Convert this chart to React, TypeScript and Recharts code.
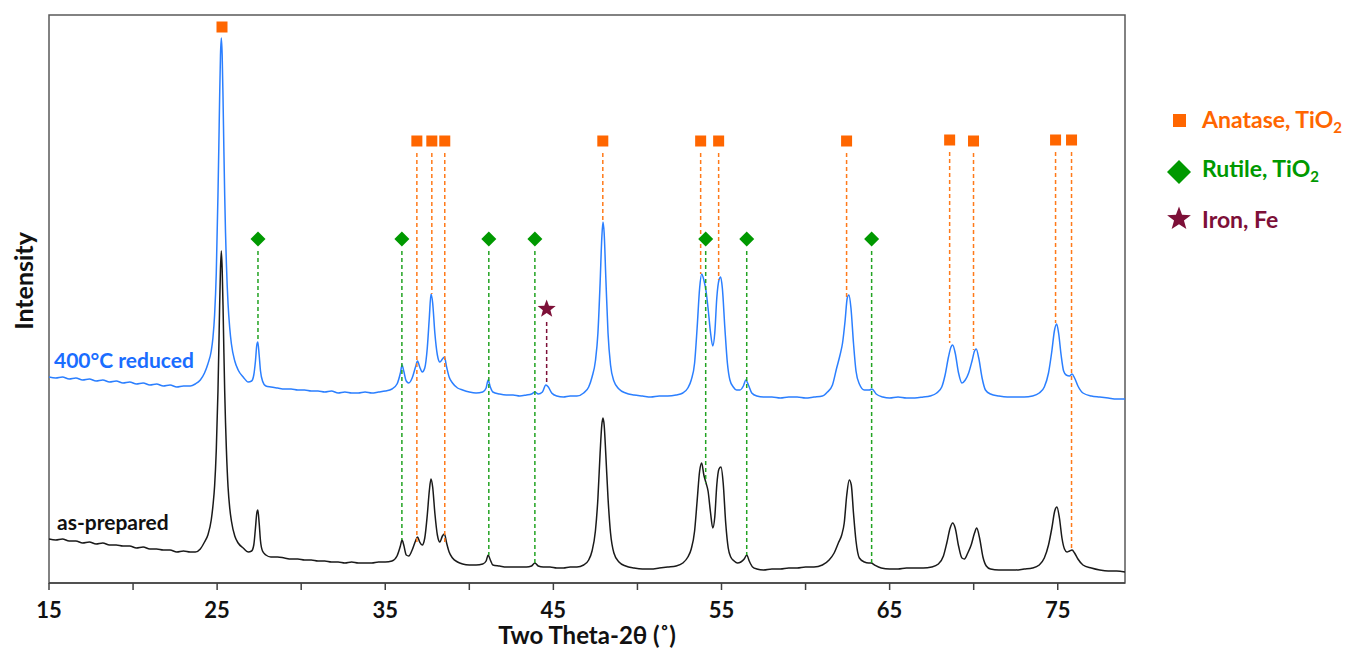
import { ComposedChart, Line, Scatter, XAxis, YAxis, ReferenceLine, ReferenceArea } from 'recharts';

// XRD scans: [two theta (deg), intensity (a.u.)]
const reducedScan: [number, number][] = [
  [15.0, 206], [15.4, 205], [15.8, 206], [16.2, 204], [16.6, 205], [17.0, 203], [17.4, 204], [17.8, 202],
  [18.2, 203], [18.6, 201], [19.0, 202], [19.4, 200], [19.8, 201], [20.2, 199], [20.6, 200], [21.0, 198],
  [21.4, 199], [21.8, 197], [22.2, 198], [22.6, 196], [23.0, 197], [23.4, 197], [23.7, 199], [24.0, 203],
  [24.25, 210], [24.45, 219], [24.65, 232], [24.75, 245], [24.85, 268], [24.95, 310], [25.05, 388], [25.1, 435],
  [25.15, 486], [25.2, 528], [25.25, 545], [25.3, 528], [25.35, 486], [25.4, 435], [25.45, 388], [25.5, 350],
  [25.55, 320], [25.65, 279], [25.75, 255], [25.85, 239], [26.05, 222], [26.25, 213], [26.55, 206], [26.85, 201],
  [27.05, 202], [27.18, 208], [27.28, 222], [27.36, 238], [27.42, 241], [27.5, 228], [27.58, 212], [27.7, 202],
  [27.9, 197], [28.2, 196], [28.6, 195], [29.0, 194], [29.4, 194], [29.8, 193], [30.2, 193], [30.6, 192],
  [31.0, 192], [31.4, 191], [31.8, 192], [32.2, 190], [32.6, 191], [33.0, 190], [33.4, 190], [33.8, 191],
  [34.2, 190], [34.6, 191], [35.0, 192], [35.4, 194], [35.7, 199], [35.9, 210], [36.0, 218], [36.1, 212],
  [36.25, 202], [36.4, 200], [36.6, 205], [36.8, 216], [36.92, 222], [37.05, 216], [37.2, 211], [37.35, 215],
  [37.5, 235], [37.62, 265], [37.72, 289], [37.82, 280], [37.95, 250], [38.1, 228], [38.25, 221], [38.4, 224],
  [38.52, 226], [38.65, 216], [38.8, 206], [39.0, 200], [39.3, 195], [39.6, 193], [40.0, 191], [40.4, 190],
  [40.8, 191], [41.0, 195], [41.12, 203], [41.25, 196], [41.4, 191], [41.8, 189], [42.2, 188], [42.6, 188],
  [43.0, 187], [43.4, 188], [43.7, 189], [43.9, 191], [44.1, 189], [44.35, 191], [44.55, 198], [44.7, 196],
  [44.9, 190], [45.2, 187], [45.6, 186], [46.0, 187], [46.4, 187], [46.8, 190], [47.1, 196], [47.3, 206],
  [47.5, 222], [47.65, 250], [47.78, 300], [47.88, 345], [47.95, 361], [48.02, 350], [48.12, 305], [48.25, 250],
  [48.4, 218], [48.6, 202], [48.9, 194], [49.3, 190], [49.8, 188], [50.3, 187], [50.8, 186], [51.3, 187],
  [51.8, 187], [52.3, 188], [52.7, 190], [53.0, 195], [53.2, 203], [53.4, 220], [53.55, 255], [53.7, 295],
  [53.82, 309], [53.95, 303], [54.08, 292], [54.2, 275], [54.35, 250], [54.48, 237], [54.6, 250], [54.72, 285],
  [54.85, 303], [54.95, 306], [55.05, 295], [55.2, 255], [55.35, 220], [55.5, 203], [55.7, 196], [55.9, 193],
  [56.1, 193], [56.3, 197], [56.45, 203], [56.6, 198], [56.8, 190], [57.1, 187], [57.5, 186], [58.0, 186],
  [58.5, 185], [59.0, 186], [59.5, 186], [60.0, 185], [60.5, 186], [61.0, 187], [61.3, 191], [61.6, 198],
  [61.85, 215], [62.05, 228], [62.2, 240], [62.35, 262], [62.48, 285], [62.58, 288], [62.7, 275], [62.85, 240],
  [63.0, 212], [63.2, 199], [63.5, 193], [63.8, 193], [63.95, 194], [64.2, 189], [64.6, 186], [65.0, 185],
  [65.5, 186], [66.0, 185], [66.5, 185], [67.0, 186], [67.4, 187], [67.8, 190], [68.1, 196], [68.3, 208],
  [68.5, 226], [68.65, 236], [68.75, 238], [68.9, 230], [69.1, 210], [69.3, 200], [69.5, 203], [69.7, 210],
  [69.9, 222], [70.05, 232], [70.15, 234], [70.3, 225], [70.5, 205], [70.7, 193], [71.0, 189], [71.5, 187],
  [72.0, 186], [72.5, 186], [73.0, 186], [73.5, 187], [73.9, 190], [74.2, 196], [74.45, 210], [74.65, 232],
  [74.8, 252], [74.93, 259], [75.05, 250], [75.2, 228], [75.35, 212], [75.5, 208], [75.7, 207], [75.85, 209],
  [76.0, 205], [76.2, 197], [76.5, 190], [77.0, 187], [77.5, 186], [78.0, 185], [78.5, 184], [79.0, 184],
];

const asPreparedScan: [number, number][] = [
  [15.0, 44], [15.4, 43], [15.8, 44], [16.2, 42], [16.6, 42], [17.0, 40], [17.4, 41], [17.8, 39],
  [18.2, 40], [18.6, 38], [19.0, 38], [19.4, 37], [19.8, 37], [20.2, 35], [20.6, 36], [21.0, 34],
  [21.4, 34], [21.8, 33], [22.2, 33], [22.6, 31], [23.0, 32], [23.4, 31], [23.7, 31], [24.0, 34],
  [24.25, 41], [24.45, 48], [24.65, 63], [24.75, 77], [24.85, 97], [24.95, 133], [25.05, 192], [25.1, 233],
  [25.15, 278], [25.2, 314], [25.25, 332], [25.3, 314], [25.35, 278], [25.4, 233], [25.45, 192], [25.5, 160],
  [25.55, 134], [25.65, 96], [25.75, 75], [25.85, 62], [26.05, 47], [26.25, 40], [26.55, 35], [26.85, 31],
  [27.05, 32], [27.18, 38], [27.28, 55], [27.36, 70], [27.42, 73], [27.5, 60], [27.58, 42], [27.7, 32],
  [27.9, 28], [28.2, 26], [28.6, 26], [29.0, 25], [29.4, 24], [29.8, 24], [30.2, 23], [30.6, 23],
  [31.0, 22], [31.4, 22], [31.8, 21], [32.2, 21], [32.6, 20], [33.0, 21], [33.4, 20], [33.8, 20],
  [34.2, 20], [34.6, 21], [35.0, 21], [35.4, 22], [35.7, 27], [35.9, 37], [36.0, 43], [36.1, 38],
  [36.25, 28], [36.4, 27], [36.6, 33], [36.8, 42], [36.92, 46], [37.05, 41], [37.2, 38], [37.35, 45],
  [37.5, 68], [37.62, 92], [37.72, 104], [37.82, 96], [37.95, 70], [38.1, 48], [38.25, 41], [38.4, 47],
  [38.52, 49], [38.65, 40], [38.8, 31], [39.0, 25], [39.3, 21], [39.6, 19], [40.0, 18], [40.4, 18],
  [40.8, 19], [41.0, 22], [41.12, 28], [41.25, 23], [41.4, 18], [41.8, 17], [42.2, 16], [42.6, 16],
  [43.0, 16], [43.4, 16], [43.7, 17], [43.9, 20], [44.1, 17], [44.4, 16], [44.8, 16], [45.2, 15],
  [45.6, 15], [46.0, 16], [46.4, 16], [46.8, 18], [47.1, 23], [47.3, 32], [47.5, 52], [47.65, 85],
  [47.78, 130], [47.88, 158], [47.95, 165], [48.02, 158], [48.12, 128], [48.25, 85], [48.4, 50], [48.6, 30],
  [48.9, 21], [49.3, 17], [49.8, 15], [50.3, 14], [50.8, 14], [51.3, 15], [51.8, 16], [52.3, 17],
  [52.7, 20], [53.0, 26], [53.2, 34], [53.4, 52], [53.55, 82], [53.7, 112], [53.82, 120], [53.95, 108],
  [54.08, 100], [54.2, 92], [54.35, 70], [54.48, 55], [54.6, 66], [54.72, 98], [54.85, 114], [54.97, 116],
  [55.1, 100], [55.25, 60], [55.4, 35], [55.55, 26], [55.75, 22], [55.95, 20], [56.15, 21], [56.35, 24],
  [56.5, 28], [56.65, 22], [56.85, 16], [57.1, 14], [57.5, 13], [58.0, 14], [58.5, 14], [59.0, 15],
  [59.5, 15], [60.0, 16], [60.5, 16], [61.0, 18], [61.4, 23], [61.7, 30], [61.95, 40], [62.15, 48],
  [62.3, 60], [62.45, 88], [62.6, 103], [62.72, 98], [62.85, 70], [63.0, 42], [63.2, 25], [63.5, 21],
  [63.75, 20], [63.9, 20], [64.1, 18], [64.5, 15], [65.0, 14], [65.5, 14], [66.0, 15], [66.5, 15],
  [67.0, 15], [67.5, 16], [67.9, 19], [68.2, 27], [68.4, 40], [68.6, 55], [68.75, 60], [68.9, 55],
  [69.1, 37], [69.3, 25], [69.45, 24], [69.65, 30], [69.85, 38], [70.05, 50], [70.18, 55], [70.35, 45],
  [70.55, 26], [70.75, 17], [71.0, 14], [71.5, 13], [72.0, 13], [72.5, 13], [73.0, 14], [73.5, 15],
  [73.9, 18], [74.2, 25], [74.45, 38], [74.65, 55], [74.82, 72], [74.95, 76], [75.1, 65], [75.25, 45],
  [75.4, 34], [75.55, 31], [75.7, 32], [75.85, 33], [76.0, 30], [76.2, 24], [76.5, 18], [77.0, 15],
  [77.5, 13], [78.0, 12], [78.5, 12], [79.0, 11],
];

// phase markers: position, marker level, where the dashed drop line ends
const anataseTheta = [25.29, 36.88, 37.77, 38.54, 47.94, 53.76, 54.83, 62.44, 68.57, 69.99, 74.87, 75.82];
const anataseLevel = [556, 442, 442, 442, 442, 442, 442, 442, 443, 442, 443, 443];
const anataseDropTo = [null, 40, 289, 40, 361, 309, 303, 286, 240, 233, 260, 33];

const rutileTheta = [27.43, 35.99, 41.16, 43.9, 54.06, 56.5, 63.93];
const rutileLevel = [344, 344, 344, 344, 344, 344, 344];
const rutileDropTo = [241, 43, 28, 20, 100, 28, 20];

const ironTheta = [44.6];
const ironLevel = [274];
const ironDropTo = [198];

const xTicks = [15, 20, 25, 30, 35, 40, 45, 50, 55, 60, 65, 70, 75];
const labeledTicks = [15, 25, 35, 45, 55, 65, 75];

const FONT = 'Lato, "Open Sans", sans-serif';
const ORANGE = '#ff6600';
const GREEN = '#009900';
const MAROON = '#7d1038';
const BLUE = '#2b7fff';

const toRows = (scan: [number, number][]) => scan.map(([theta, h]) => ({ theta, h }));
const toMarks = (theta: number[], level: number[]) => theta.map((t, i) => ({ theta: t, h: level[i] }));

function starPath(cx: number, cy: number, R: number, r: number) {
  let d = '';
  for (let i = 0; i < 10; i++) {
    const a = -Math.PI / 2 + (i * Math.PI) / 5;
    const rad = i % 2 === 0 ? R : r;
    d += (i === 0 ? 'M' : 'L') + (cx + rad * Math.cos(a)).toFixed(2) + ',' + (cy + rad * Math.sin(a)).toFixed(2);
  }
  return d + 'Z';
}

const SquareMark = (p: any) => <rect x={p.cx - 5.5} y={p.cy - 5.5} width={11} height={11} fill={ORANGE} />;
const DiamondMark = (p: any) => (
  <polygon points={`${p.cx},${p.cy - 7.5} ${p.cx + 7.5},${p.cy} ${p.cx},${p.cy + 7.5} ${p.cx - 7.5},${p.cy}`} fill={GREEN} />
);
const StarMark = (p: any) => <path d={starPath(p.cx, p.cy, 9.5, 4)} fill={MAROON} />;

function drops(theta: number[], level: number[], dropTo: (number | null)[], gap: number, color: string) {
  return theta.map((t, i) =>
    dropTo[i] == null ? null : (
      <ReferenceLine
        key={`${color}-${t}`}
        segment={[{ x: t, y: level[i] - gap }, { x: t, y: dropTo[i] as number }]}
        stroke={color}
        strokeWidth={1.5}
        strokeDasharray="4 3"
        ifOverflow="visible"
      />
    )
  );
}

export default function App() {
  return (
    <div style={{ position: 'absolute', left: 0, top: 0, width: 1360, height: 650, background: '#fff' }}>
      <ComposedChart width={1360} height={650} margin={{ top: 15, right: 235, bottom: 0, left: 49 }}>
        <XAxis
          type="number"
          dataKey="theta"
          domain={[15, 79]}
          allowDataOverflow
          ticks={xTicks}
          interval={0}
          tickFormatter={(v: number) => (labeledTicks.includes(v) ? String(v) : '')}
          height={67}
          axisLine={{ stroke: '#404040', strokeWidth: 1.5 }}
          tickLine={{ stroke: '#404040', strokeWidth: 1.5 }}
          tickSize={7}
          tickMargin={12}
          tick={{ fontSize: 22, fontWeight: 700, fill: '#111', fontFamily: FONT }}
          label={{
            value: 'Two Theta-2θ (˚)',
            position: 'insideBottom',
            offset: 6,
            fontSize: 24,
            fontWeight: 700,
            fill: '#111',
            fontFamily: FONT,
          }}
        />
        <YAxis type="number" dataKey="h" domain={[0, 568]} allowDataOverflow hide />
        <ReferenceArea x1={15} x2={79} y1={0} y2={568} fill="none" stroke="#595959" strokeWidth={1.5} ifOverflow="visible" />
        <Line data={toRows(asPreparedScan)} dataKey="h" type="monotone" stroke="#1a1a1a" strokeWidth={1.5} dot={false} isAnimationActive={false} />
        <Line data={toRows(reducedScan)} dataKey="h" type="monotone" stroke={BLUE} strokeWidth={1.5} dot={false} isAnimationActive={false} />
        {drops(anataseTheta, anataseLevel, anataseDropTo, 12, '#ff7a1a')}
        {drops(rutileTheta, rutileLevel, rutileDropTo, 12, '#22a322')}
        {drops(ironTheta, ironLevel, ironDropTo, 13, MAROON)}
        <Scatter data={toMarks(anataseTheta, anataseLevel)} shape={SquareMark} isAnimationActive={false} />
        <Scatter data={toMarks(rutileTheta, rutileLevel)} shape={DiamondMark} isAnimationActive={false} />
        <Scatter data={toMarks(ironTheta, ironLevel)} shape={StarMark} isAnimationActive={false} />
      </ComposedChart>
      <svg width={1360} height={650} style={{ position: 'absolute', left: 0, top: 0, pointerEvents: 'none' }} fontFamily={FONT} fontWeight={700}>
        <text transform="translate(33,281) rotate(-90)" textAnchor="middle" fontSize={25} fill="#111">Intensity</text>
        <text x={54} y={368} fontSize={21} fill="#1a6dff">400°C reduced</text>
        <text x={57} y={530} fontSize={21} fill="#111">as-prepared</text>

        <rect x={1173} y={114} width={13} height={13} fill={ORANGE} />
        <text x={1202} y={128} fontSize={23} fill={ORANGE}>
          Anatase, TiO<tspan fontSize={15} dy={5}>2</tspan>
        </text>
        <polygon points="1179,160 1191,172 1179,184 1167,172" fill={GREEN} />
        <text x={1202} y={177} fontSize={23} fill={GREEN}>
          Rutile, TiO<tspan fontSize={15} dy={5}>2</tspan>
        </text>
        <path d={starPath(1179, 219, 12.5, 5.2)} fill={MAROON} />
        <text x={1202} y={228} fontSize={23} fill={MAROON}>Iron, Fe</text>
      </svg>
    </div>
  );
}
